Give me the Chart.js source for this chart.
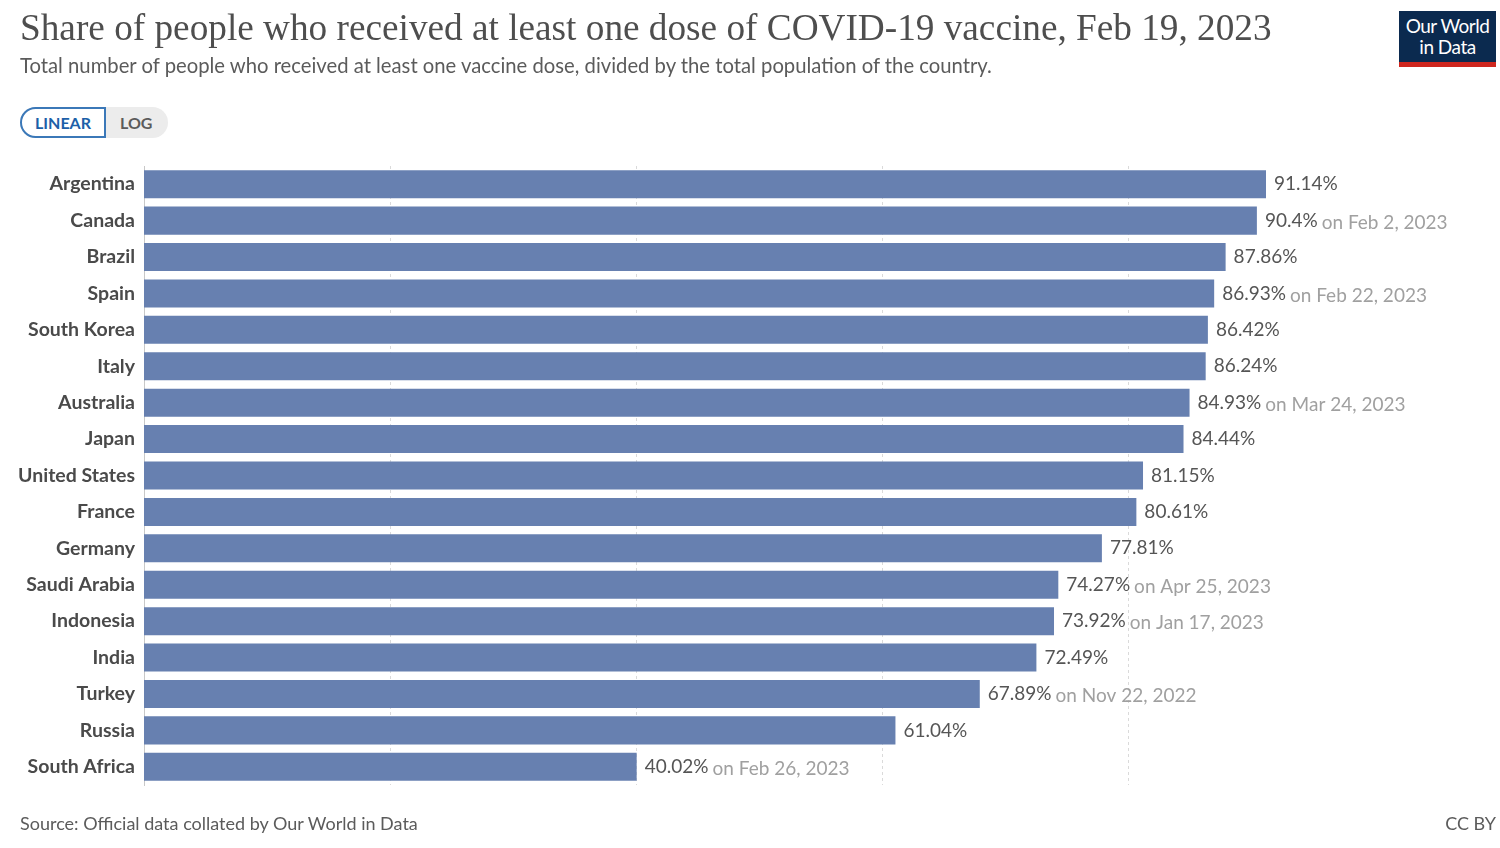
<!DOCTYPE html>
<html>
<head>
<meta charset="utf-8">
<script src="https://cdn.jsdelivr.net/npm/chart.js"></script>
<style>
  html, body { margin: 0; padding: 0; background: #fff; }
  body { width: 1500px; height: 848px; position: relative; overflow: hidden; font-family: Lato, "Noto Sans", sans-serif; }
  #chart { position: absolute; left: 0; top: 0; }
  .title { position: absolute; left: 20px; top: 6px; font-family: "Liberation Serif", "DejaVu Serif", serif; font-size: 38px; color: #4e4e4e; white-space: nowrap; }
  .subtitle { position: absolute; left: 20px; top: 53px; font-size: 18px; color: #5b5b5b; white-space: nowrap; }
  .toggle { position: absolute; left: 20px; top: 107px; height: 31px; display: flex; border-radius: 16px; background: #ececec; font-size: 16px; font-weight: bold; }
  .toggle .on { border: 2px solid #3b78b8; border-radius: 16px 0 0 16px; background: #fff; color: #1d5fa8; padding: 0 13px; line-height: 27px; }
  .toggle .off { color: #5b5b5b; padding: 0 16px 0 14px; line-height: 31px; }
  .logo { position: absolute; left: 1399px; top: 11px; width: 97px; height: 56px; background: #0b2a4f; color: #fff; text-align: center; font-size: 19px; line-height: 21px; box-sizing: border-box; padding-top: 4px; letter-spacing: -0.5px; }
  .logo .red { position: absolute; left: 0; bottom: 0; width: 100%; height: 5px; background: #ce261e; }
  .source { position: absolute; left: 20px; top: 812px; font-size: 18px; color: #5b5b5b; }
  .cc { position: absolute; right: 4px; top: 812px; font-size: 18px; color: #5b5b5b; }
</style>
</head>
<body>
<canvas id="chart" width="1500" height="848"></canvas>
<div class="title" id="title">Share of people who received at least one dose of COVID-19 vaccine, Feb 19, 2023</div>
<div class="subtitle" id="subtitle">Total number of people who received at least one vaccine dose, divided by the total population of the country.</div>
<div class="toggle"><div class="on">LINEAR</div><div class="off">LOG</div></div>
<div class="logo">Our World<br>in Data<div class="red"></div></div>
<div class="source">Source: Official data collated by Our World in Data</div>
<div class="cc">CC BY</div>
<script>
// 국가별 데이터
const countries = ['Argentina', 'Canada', 'Brazil', 'Spain', 'South Korea', 'Italy', 'Australia', 'Japan',
  'United States', 'France', 'Germany', 'Saudi Arabia', 'Indonesia', 'India', 'Turkey', 'Russia', 'South Africa'];
const shares = [91.14, 90.4, 87.86, 86.93, 86.42, 86.24, 84.93, 84.44, 81.15, 80.61, 77.81, 74.27, 73.92, 72.49, 67.89, 61.04, 40.02];
const dateNotes = ['', 'on Feb 2, 2023', '', 'on Feb 22, 2023', '', '', 'on Mar 24, 2023', '',
  '', '', '', 'on Apr 25, 2023', 'on Jan 17, 2023', '', 'on Nov 22, 2022', '', 'on Feb 26, 2023'];
const gridTicks = [20, 40, 60, 80];

// 제목 폭 맞추기
function fitWidth(id, target) {
  const el = document.getElementById(id);
  const size = parseFloat(getComputedStyle(el).fontSize);
  el.style.fontSize = (size * target / el.offsetWidth) + 'px';
}
fitWidth('title', 1252);
fitWidth('subtitle', 972);

// 막대 끝 라벨
const valueLabels = {
  id: 'valueLabels',
  afterDatasetsDraw(chart) {
    const ctx = chart.ctx;
    const meta = chart.getDatasetMeta(0);
    ctx.save();
    ctx.textBaseline = 'middle';
    ctx.textAlign = 'left';
    meta.data.forEach((bar, i) => {
      const text = shares[i] + '%';
      const x = bar.x + 8;
      ctx.font = '19px Lato';
      ctx.fillStyle = '#555';
      ctx.fillText(text, x, bar.y);
      if (dateNotes[i]) {
        const w = ctx.measureText(text).width;
        ctx.fillStyle = '#a0a0a0';
        ctx.fillText(dateNotes[i], x + w + 4, bar.y + 2);
      }
    });
    ctx.restore();
  }
};

new Chart(document.getElementById('chart'), {
  type: 'bar',
  data: {
    labels: countries,
    datasets: [{
      data: shares,
      backgroundColor: '#6780b0',
      barPercentage: 0.77,
      categoryPercentage: 1
    }]
  },
  options: {
    indexAxis: 'y',
    responsive: false,
    animation: false,
    layout: { padding: { top: 166, bottom: 63, left: 0, right: 234 } },
    plugins: { legend: { display: false }, tooltip: { enabled: false } },
    scales: {
      x: {
        min: 0,
        max: Math.max(...shares),
        ticks: { display: false, stepSize: 20 },
        afterBuildTicks: scale => { scale.ticks = gridTicks.map(v => ({ value: v })); },
        grid: { color: '#dadada', lineWidth: 1, drawTicks: false },
        border: { display: false, dash: [3, 3] }
      },
      y: {
        afterFit: scale => { scale.width = 144; },
        ticks: { color: '#4a4a4a', padding: 9, font: { family: 'Lato', size: 19.5, weight: 'bold' } },
        grid: { display: false, drawTicks: false },
        border: { display: true, color: '#c8c8c8', width: 1 }
      }
    }
  },
  plugins: [valueLabels]
});
</script>
</body>
</html>
